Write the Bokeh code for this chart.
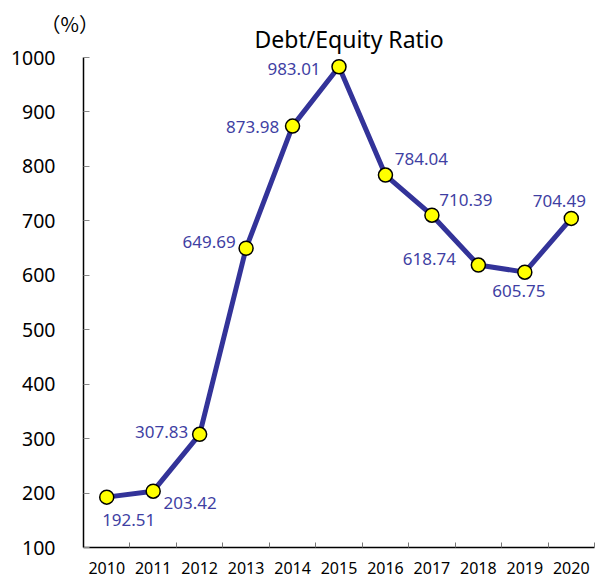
from bokeh.plotting import figure
from bokeh.models import ColumnDataSource, FixedTicker, Range1d, LinearAxis, Title
from bokeh.embed import file_html
from bokeh.resources import INLINE
from bokeh.core.properties import value

years = ["2010", "2011", "2012", "2013", "2014", "2015", "2016", "2017", "2018", "2019", "2020"]
ratios = [192.51, 203.42, 307.83, 649.69, 873.98, 983.01, 784.04, 710.39, 618.74, 605.75, 704.49]
y_ticks = [100, 200, 300, 400, 500, 600, 700, 800, 900, 1000]

# label offsets in screen pixels (style)
label_dx = [22, 37, -38, -37, -40, -45, 36, 34, -49, -6, -12]
label_dy = [23, 12, -2, -6, 1, 2, -16, -15, -6, 19, -17]

FONT = "Noto Sans"
LINE_COLOR = "#333399"
TEXT_COLOR = "#3f3fa3"

xs = [i + 0.5 for i in range(len(years))]
src = ColumnDataSource(dict(
    x=xs, y=ratios, label=[f"{v:.2f}" for v in ratios], dx=label_dx, dy=label_dy,
))

p = figure(width=595, height=577,
           x_range=Range1d(0, len(years)), y_range=Range1d(y_ticks[0], y_ticks[-1]),
           output_backend="svg", toolbar_location=None,
           x_axis_type=None, y_axis_type=None,
           min_border_left=83, min_border_right=1, min_border_top=57, min_border_bottom=30)
p.outline_line_color = None
p.background_fill_color = "white"
p.border_fill_color = "white"

xaxis = LinearAxis(
    ticker=FixedTicker(ticks=xs, minor_ticks=list(range(len(years) + 1))),
    major_label_overrides={x: y for x, y in zip(xs, years)},
    major_tick_line_color=None,
    minor_tick_in=5, minor_tick_out=0, minor_tick_line_color="#777777",
    axis_line_color="black", axis_line_width=1.5,
    major_label_standoff=8,
    major_label_text_font=FONT, major_label_text_font_size="16px",
    major_label_text_color="black",
)
p.add_layout(xaxis, "below")

yaxis = LinearAxis(
    ticker=FixedTicker(ticks=y_ticks),
    major_tick_in=6, major_tick_out=0, major_tick_line_color="#888888",
    minor_tick_line_color=None,
    axis_line_color="black", axis_line_width=1.5,
    major_label_standoff=28,
    major_label_text_font=FONT, major_label_text_font_size="19.5px",
    major_label_text_color="black",
)
p.add_layout(yaxis, "left")

title = Title(text="Debt/Equity Ratio", align="left", offset=171,
              text_font=FONT, text_font_size="23px", text_font_style="normal",
              text_color="black", standoff=6)
p.add_layout(title, "above")

unit = Title(text="（%）", align="left", offset=-43,
             text_font="Noto Sans CJK JP", text_font_size="20px", text_font_style="normal",
             text_color="black", standoff=-40)
p.add_layout(unit, "above")

p.line("x", "y", source=src, line_color=LINE_COLOR, line_width=5)
p.scatter("x", "y", source=src, size=14, fill_color="#ffff00", line_color="black", line_width=1.5)
p.text(x="x", y="y", text="label", source=src, x_offset="dx", y_offset="dy",
       text_align="center", text_baseline="middle", text_color=TEXT_COLOR,
       text_font=value(FONT), text_font_size="17px")

open("out.html", "w").write(file_html(p, INLINE))
